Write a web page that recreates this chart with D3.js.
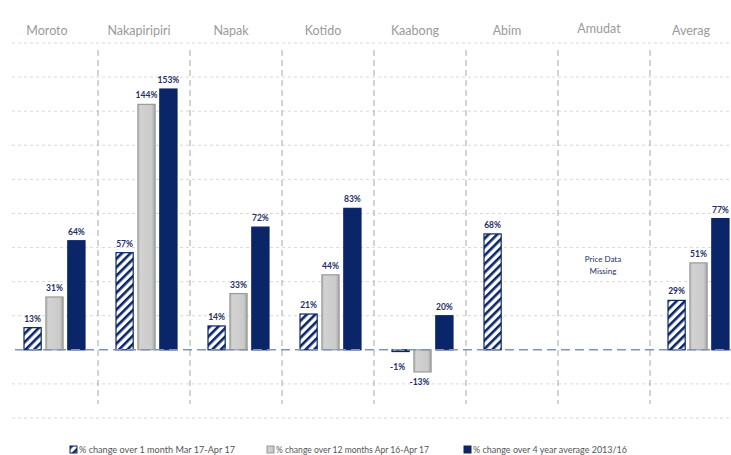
<!DOCTYPE html>
<html>
<head>
<meta charset="utf-8">
<script src="https://cdn.jsdelivr.net/npm/d3@7"></script>
<style>
  html, body { margin: 0; padding: 0; background: #fff; }
  svg { display: block; font-family: Lato, "Liberation Sans", sans-serif; }
</style>
</head>
<body>
<svg id="chart" width="731" height="455"></svg>
<script>
const categories = ["Moroto", "Nakapiripiri", "Napak", "Kotido", "Kaabong", "Abim", "Amudat", "Averag"];
const seriesNames = ["% change over 1 month Mar 17-Apr 17", "% change over 12 months  Apr 16-Apr 17", "% change over 4 year average 2013/16"];
const monthChange = [13, 57, 14, 21, -1, 68, null, 29];
const yearChange = [31, 144, 33, 44, -13, null, null, 51];
const fourYearChange = [64, 153, 72, 83, 20, null, null, 77];
const yTicks = [-40, -20, 0, 20, 40, 60, 80, 100, 120, 140, 160, 180];
const missingNote = ["Price Data", "Missing"];

const svg = d3.select("#chart");
const navy = "#0b2569";
const labelColor = "#1e2f63";

const defs = svg.append("defs");
const pat = defs.append("pattern").attr("id", "hatch").attr("patternUnits", "userSpaceOnUse")
  .attr("width", 6).attr("height", 6).attr("patternTransform", "rotate(45)");
pat.append("rect").attr("width", 6).attr("height", 6).attr("fill", "#fff");
pat.append("rect").attr("x", 0).attr("width", 2.6).attr("height", 6).attr("fill", navy);
const grad = defs.append("linearGradient").attr("id", "greyGrad").attr("x1", 0).attr("x2", 1).attr("y1", 0).attr("y2", 0);
grad.append("stop").attr("offset", "0%").attr("stop-color", "#b8b8b8");
grad.append("stop").attr("offset", "15%").attr("stop-color", "#d2d2d2");
grad.append("stop").attr("offset", "80%").attr("stop-color", "#cbcbcb");
grad.append("stop").attr("offset", "100%").attr("stop-color", "#a4a4a4");

const x = d3.scaleBand().domain(categories).range([6, 742]);
const x1 = d3.scaleBand().domain([0, 1, 2]).range([18, 79]).paddingInner(0.215);
const y = d3.scaleLinear().domain([-40, 180]).range([418, 43]);

// horizontal gridlines
svg.append("g").selectAll("line").data(yTicks.filter(t => t !== 0)).join("line")
  .attr("x1", 12).attr("x2", 731)
  .attr("y1", d => y(d)).attr("y2", d => y(d))
  .attr("stroke", "#d9d9d9").attr("stroke-width", 1).attr("stroke-dasharray", "3,3");

// vertical separators
svg.append("g").selectAll("line").data(categories.slice(1)).join("line")
  .attr("x1", d => x(d)).attr("x2", d => x(d))
  .attr("y1", 50).attr("y2", 404)
  .attr("stroke", "#a8a8a8").attr("stroke-width", 1).attr("stroke-dasharray", "6,4");

// category labels
svg.append("g").selectAll("text").data(categories).join("text")
  .attr("x", d => x(d) + x.bandwidth() / 2 - 5)
  .attr("y", d => d === "Amudat" ? 33 : 35)
  .attr("text-anchor", "middle")
  .attr("font-size", 12.5)
  .attr("fill", "#9a9a9a")
  .text(d => d);

const seriesData = [monthChange, yearChange, fourYearChange];
const fills = ["url(#hatch)", "url(#greyGrad)", navy];
const strokes = [navy, "#9a9a9a", navy];

const bars = [];
seriesData.forEach((arr, si) => {
  arr.forEach((v, ci) => {
    if (v === null) return;
    bars.push({ si, cat: categories[ci], v });
  });
});

svg.append("g").selectAll("rect").data(bars).join("rect")
  .attr("x", d => x(d.cat) + x1(d.si))
  .attr("y", d => y(Math.max(0, d.v)))
  .attr("width", x1.bandwidth())
  .attr("height", d => Math.abs(y(d.v) - y(0)))
  .attr("fill", d => fills[d.si])
  .attr("stroke", d => strokes[d.si])
  .attr("stroke-width", 1.2);

// zero line
svg.append("line")
  .attr("x1", 15).attr("x2", 731)
  .attr("y1", y(0)).attr("y2", y(0))
  .attr("stroke", "#8593b3").attr("stroke-width", 1.6).attr("stroke-dasharray", "9,5");

// value labels
svg.append("g").selectAll("text").data(bars).join("text")
  .attr("x", d => x(d.cat) + x1(d.si) + x1.bandwidth() / 2 - (d.v < 0 ? 3 : 0))
  .attr("y", d => d.v >= 0 ? y(d.v) - 6 : y(d.v) + (d.v > -5 ? 18 : 13))
  .attr("text-anchor", "middle")
  .attr("font-size", 8.5)
  .attr("font-weight", "bold")
  .attr("fill", labelColor)
  .text(d => d.v + "%");

// missing note
svg.append("g").selectAll("text").data(missingNote).join("text")
  .attr("x", x("Amudat") + x.bandwidth() / 2 - 1)
  .attr("y", (d, i) => 262 + i * 12)
  .attr("text-anchor", "middle")
  .attr("font-size", 8)
  .attr("fill", labelColor)
  .text(d => d);

// legend
const legendX = [70, 267, 464];
const legendLen = [156, 153, 154];
const lg = svg.append("g").selectAll("g").data(seriesNames).join("g")
  .attr("transform", (d, i) => `translate(${legendX[i]},446)`);
lg.append("rect").attr("width", 7).attr("height", 7)
  .attr("fill", (d, i) => fills[i]).attr("stroke", (d, i) => strokes[i]).attr("stroke-width", 1);
lg.append("text").attr("x", 9).attr("y", 7)
  .attr("font-size", 9.5).attr("fill", "#555")
  .attr("textLength", (d, i) => legendLen[i])
  .attr("lengthAdjust", "spacingAndGlyphs")
  .text(d => d);
</script>
</body>
</html>
